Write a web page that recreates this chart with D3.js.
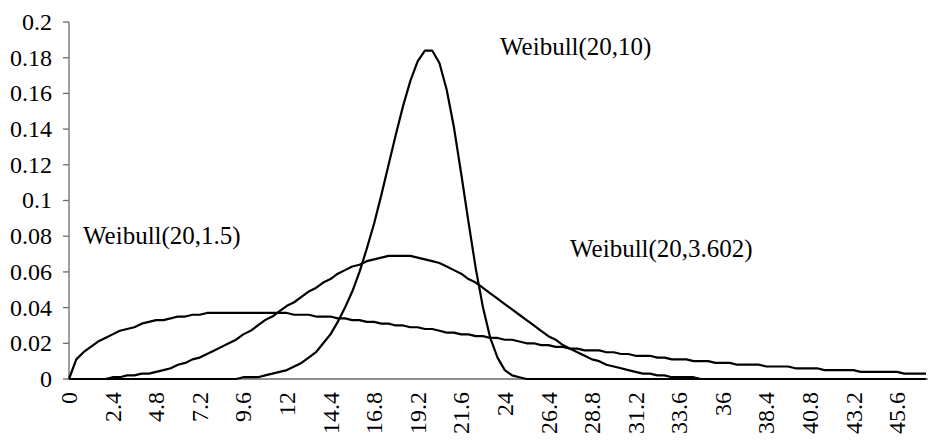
<!DOCTYPE html>
<html>
<head>
<meta charset="utf-8">
<script src="https://cdn.jsdelivr.net/npm/d3@7"></script>
<style>
  html, body { margin: 0; padding: 0; background: #ffffff; }
</style>
</head>
<body>
<svg id="chart" width="928" height="441"></svg>
<script>
// x positions of the sampled points
const xValues = [
  0, 0.4, 0.8, 1.2, 1.6, 2, 2.4, 2.8, 3.2, 3.6,
  4, 4.4, 4.8, 5.2, 5.6, 6, 6.4, 6.8, 7.2, 7.6,
  8, 8.4, 8.8, 9.2, 9.6, 10, 10.4, 10.8, 11.2, 11.6,
  12, 12.4, 12.8, 13.2, 13.6, 14, 14.4, 14.8, 15.2, 15.6,
  16, 16.4, 16.8, 17.2, 17.6, 18, 18.4, 18.8, 19.2, 19.6,
  20, 20.4, 20.8, 21.2, 21.6, 22, 22.4, 22.8, 23.2, 23.6,
  24, 24.4, 24.8, 25.2, 25.6, 26, 26.4, 26.8, 27.2, 27.6,
  28, 28.4, 28.8, 29.2, 29.6, 30, 30.4, 30.8, 31.2, 31.6,
  32, 32.4, 32.8, 33.2, 33.6, 34, 34.4, 34.8, 35.2, 35.6,
  36, 36.4, 36.8, 37.2, 37.6, 38, 38.4, 38.8, 39.2, 39.6,
  40, 40.4, 40.8, 41.2, 41.6, 42, 42.4, 42.8, 43.2, 43.6,
  44, 44.4, 44.8, 45.2, 45.6, 46, 46.4, 46.8, 47.2
];

// Weibull(20,1.5) density
const weibullShape15 = [
  0, 0.011, 0.015, 0.018, 0.021, 0.023, 0.025, 0.027, 0.028, 0.029,
  0.031, 0.032, 0.033, 0.033, 0.034, 0.035, 0.035, 0.036, 0.036, 0.037,
  0.037, 0.037, 0.037, 0.037, 0.037, 0.037, 0.037, 0.037, 0.037, 0.037,
  0.037, 0.036, 0.036, 0.036, 0.035, 0.035, 0.035, 0.034, 0.034, 0.033,
  0.033, 0.032, 0.032, 0.031, 0.031, 0.030, 0.030, 0.029, 0.029, 0.028,
  0.028, 0.027, 0.026, 0.026, 0.025, 0.025, 0.024, 0.024, 0.023, 0.023,
  0.022, 0.022, 0.021, 0.020, 0.020, 0.019, 0.019, 0.018, 0.018, 0.017,
  0.017, 0.016, 0.016, 0.016, 0.015, 0.015, 0.014, 0.014, 0.013, 0.013,
  0.013, 0.012, 0.012, 0.011, 0.011, 0.011, 0.010, 0.010, 0.010, 0.009,
  0.009, 0.009, 0.008, 0.008, 0.008, 0.008, 0.007, 0.007, 0.007, 0.007,
  0.006, 0.006, 0.006, 0.006, 0.005, 0.005, 0.005, 0.005, 0.005, 0.004,
  0.004, 0.004, 0.004, 0.004, 0.004, 0.003, 0.003, 0.003, 0.003
];

// Weibull(20,3.602) density
const weibullShape3602 = [
  0, 0, 0, 0, 0, 0, 0.001, 0.001, 0.002, 0.002,
  0.003, 0.003, 0.004, 0.005, 0.006, 0.008, 0.009, 0.011, 0.012, 0.014,
  0.016, 0.018, 0.020, 0.022, 0.025, 0.027, 0.030, 0.033, 0.035, 0.038,
  0.041, 0.043, 0.046, 0.049, 0.051, 0.054, 0.056, 0.059, 0.061, 0.063,
  0.064, 0.066, 0.067, 0.068, 0.069, 0.069, 0.069, 0.069, 0.068, 0.067,
  0.066, 0.065, 0.063, 0.061, 0.059, 0.056, 0.054, 0.051, 0.048, 0.045,
  0.042, 0.039, 0.036, 0.033, 0.030, 0.027, 0.024, 0.022, 0.019, 0.017,
  0.015, 0.013, 0.011, 0.010, 0.008, 0.007, 0.006, 0.005, 0.004, 0.003,
  0.003, 0.002, 0.002, 0.001, 0.001, 0.001, 0.001, 0, 0, 0,
  0, 0, 0, 0, 0, 0, 0, 0, 0, 0,
  0, 0, 0, 0, 0, 0, 0, 0, 0, 0,
  0, 0, 0, 0, 0, 0, 0, 0, 0
];

// Weibull(20,10) density
const weibullShape10 = [
  0, 0, 0, 0, 0, 0, 0, 0, 0, 0,
  0, 0, 0, 0, 0, 0, 0, 0, 0, 0,
  0, 0, 0, 0, 0.001, 0.001, 0.001, 0.002, 0.003, 0.004,
  0.005, 0.007, 0.009, 0.012, 0.015, 0.020, 0.025, 0.032, 0.040, 0.049,
  0.060, 0.073, 0.087, 0.103, 0.120, 0.137, 0.153, 0.167, 0.178, 0.184,
  0.184, 0.177, 0.162, 0.141, 0.115, 0.088, 0.062, 0.040, 0.023, 0.012,
  0.005, 0.002, 0.001, 0, 0, 0, 0, 0, 0, 0,
  0, 0, 0, 0, 0, 0, 0, 0, 0, 0,
  0, 0, 0, 0, 0, 0, 0, 0, 0, 0,
  0, 0, 0, 0, 0, 0, 0, 0, 0, 0,
  0, 0, 0, 0, 0, 0, 0, 0, 0, 0,
  0, 0, 0, 0, 0, 0, 0, 0, 0
];

const xTickLabels = ["0", "2.4", "4.8", "7.2", "9.6", "12", "14.4", "16.8", "19.2", "21.6",
  "24", "26.4", "28.8", "31.2", "33.6", "36", "38.4", "40.8", "43.2", "45.6"];
const yTickLabels = ["0", "0.02", "0.04", "0.06", "0.08", "0.1", "0.12", "0.14", "0.16", "0.18", "0.2"];

const seriesNames = ["Weibull(20,1.5)", "Weibull(20,3.602)", "Weibull(20,10)"];
const seriesValues = [weibullShape15, weibullShape3602, weibullShape10];

const FONT = '"Liberation Serif"';
const svg = d3.select("#chart");
const plot = { left: 69, right: 897, top: 22, bottom: 379 };

const xTicks = xTickLabels.map(Number);
const yTicks = yTickLabels.map(Number);

const x = d3.scaleLinear()
  .domain([xTicks[0], xTicks[xTicks.length - 1]])
  .range([plot.left, plot.right]);
const y = d3.scaleLinear()
  .domain([yTicks[0], yTicks[yTicks.length - 1]])
  .range([plot.bottom, plot.top]);

const axisColor = "#6b6b6b";

// y axis: ticks and labels drawn from the scale
const yAxisGroup = svg.append("g").attr("transform", `translate(${plot.left},0)`);
yAxisGroup.append("line")
  .attr("x1", 0).attr("x2", 0)
  .attr("y1", y(yTicks[0])).attr("y2", y(yTicks[yTicks.length - 1]))
  .attr("stroke", axisColor).attr("stroke-width", 1.3);
const yTick = yAxisGroup.selectAll("g.ytick")
  .data(yTicks)
  .join("g")
  .attr("class", "ytick")
  .attr("transform", d => `translate(0,${y(d)})`);
yTick.append("line")
  .attr("x1", -6).attr("x2", 0)
  .attr("stroke", axisColor).attr("stroke-width", 1.3);
yTick.append("text")
  .attr("x", -17)
  .attr("dy", "0.33em")
  .attr("text-anchor", "end")
  .attr("font-family", FONT)
  .attr("font-size", 24)
  .attr("fill", "#000")
  .text((d, i) => yTickLabels[i]);

// x axis: baseline and rotated category labels
const xAxisGroup = svg.append("g").attr("transform", `translate(0,${plot.bottom})`);
xAxisGroup.append("line")
  .attr("x1", plot.left).attr("x2", 928)
  .attr("stroke", axisColor).attr("stroke-width", 1.3);
xAxisGroup.selectAll("text")
  .data(xTicks)
  .join("text")
  .attr("transform", d => `translate(${x(d)},0) rotate(-90)`)
  .attr("x", -13)
  .attr("dy", "0.34em")
  .attr("text-anchor", "end")
  .attr("font-family", FONT)
  .attr("font-size", 24)
  .attr("fill", "#000")
  .text((d, i) => xTickLabels[i]);

// density curves
const line = d3.line()
  .x((d, i) => x(xValues[i]))
  .y(d => y(d));

svg.append("g")
  .selectAll("path")
  .data(seriesValues)
  .join("path")
  .attr("d", d => line(d))
  .attr("fill", "none")
  .attr("stroke", "#000")
  .attr("stroke-width", 2.2)
  .attr("stroke-linejoin", "round");

// curve labels
const labelPos = [
  { name: seriesNames[0], x: 83, y: 244 },
  { name: seriesNames[1], x: 570, y: 257 },
  { name: seriesNames[2], x: 500, y: 55 }
];
svg.append("g")
  .selectAll("text")
  .data(labelPos)
  .join("text")
  .attr("x", d => d.x)
  .attr("y", d => d.y)
  .attr("fill", "#000")
  .attr("font-family", FONT)
  .attr("font-size", 25)
  .text(d => d.name);

// make sure the serif face is loaded, then re-apply it to every label
if (document.fonts && document.fonts.load) {
  document.fonts.load('24px "Liberation Serif"').then(() => {
    svg.selectAll("text").attr("font-family", FONT);
  }).catch(() => {});
}
</script>
</body>
</html>
